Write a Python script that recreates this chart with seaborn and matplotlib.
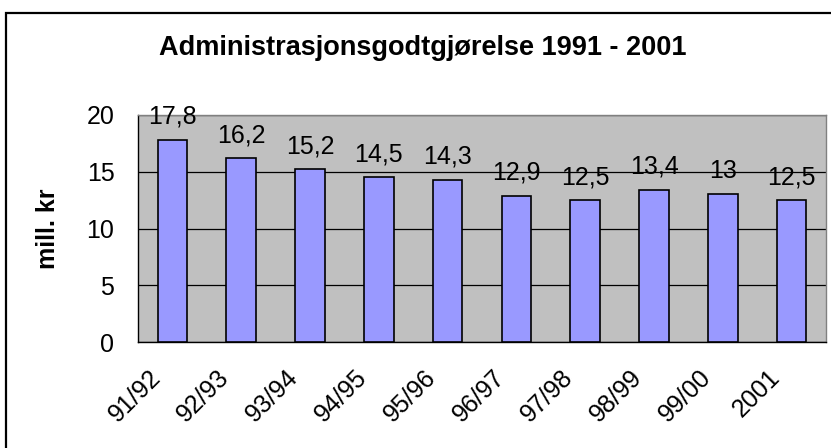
import numpy as np
import pandas as pd
import seaborn as sns
import matplotlib.pyplot as plt
from matplotlib.patches import Rectangle
from matplotlib.transforms import ScaledTranslation

seasons = ["91/92", "92/93", "93/94", "94/95", "95/96", "96/97", "97/98", "98/99", "99/00", "2001"]
values = [17.8, 16.2, 15.2, 14.5, 14.3, 12.9, 12.5, 13.4, 13, 12.5]
value_labels = ["17,8", "16,2", "15,2", "14,5", "14,3", "12,9", "12,5", "13,4", "13", "12,5"]

df = pd.DataFrame({"season": seasons, "value": values})

sns.set_style("white")
plt.rcParams["font.family"] = ["Liberation Sans", "DejaVu Sans"]
plt.rcParams["text.color"] = "black"
plt.rcParams["axes.labelcolor"] = "black"
plt.rcParams["xtick.color"] = "black"
plt.rcParams["ytick.color"] = "black"

fig = plt.figure(figsize=(8.31, 4.48), dpi=100)
ax = fig.add_axes([138 / 831, 1 - 342 / 448, (826 - 138) / 831, (342 - 115) / 448])

sns.barplot(data=df, x="season", y="value", color="#9999FF", edgecolor="black",
            linewidth=1.2, width=0.43, saturation=1, ax=ax, zorder=3)

ax.set_facecolor("#C0C0C0")
ax.set_xlim(-0.5, len(seasons) - 0.5)
ax.set_ylim(0, 20)
ax.set_yticks([0, 5, 10, 15, 20])
ax.yaxis.grid(True, color="black", linewidth=0.9, zorder=1)
ax.set_axisbelow(True)

# category boundary ticks, labels shifted left of centre
ax.set_xticks(np.arange(-0.5, len(seasons), 1.0))
ax.set_xticklabels([])
ax.set_xticks(np.arange(len(seasons)), minor=True)
ax.set_xticklabels(seasons, minor=True, rotation=45, ha="right",
                   rotation_mode="anchor", fontsize=18)
ax.tick_params(axis="x", which="major", length=7, width=1, color="black", direction="out")
ax.tick_params(axis="x", which="minor", length=0, pad=17)
ax.tick_params(axis="y", length=7, width=1, color="black", direction="out", labelsize=18, pad=10)
shift = ScaledTranslation(-24 / 100, 0, fig.dpi_scale_trans)
for lab in ax.get_xticklabels(minor=True):
    lab.set_transform(lab.get_transform() + shift)

for s in ["left", "bottom"]:
    ax.spines[s].set_color("black")
    ax.spines[s].set_linewidth(1)
for s in ["top", "right"]:
    ax.spines[s].set_color("#808080")
    ax.spines[s].set_linewidth(1)

for i, v in enumerate(values):
    ax.annotate(value_labels[i], (i, v), xytext=(0, 8), textcoords="offset points",
                ha="center", va="bottom", fontsize=18, zorder=4)

ax.set_xlabel("")
ax.set_ylabel("mill. kr", fontsize=18, fontweight="bold")
ax.yaxis.set_label_coords(-0.113, 0.5)

fig.text(423 / 831, 1 - 48 / 448, "Administrasjonsgodtgjørelse 1991 - 2001",
         ha="center", va="center", fontsize=19.5, fontweight="bold")

fig.patches.append(Rectangle((6 / 831, -0.05), 1.0, 1 - 13 / 448 + 0.05,
                             transform=fig.transFigure, fill=False,
                             edgecolor="black", linewidth=1.6))

fig.savefig("out.png", dpi=100)
